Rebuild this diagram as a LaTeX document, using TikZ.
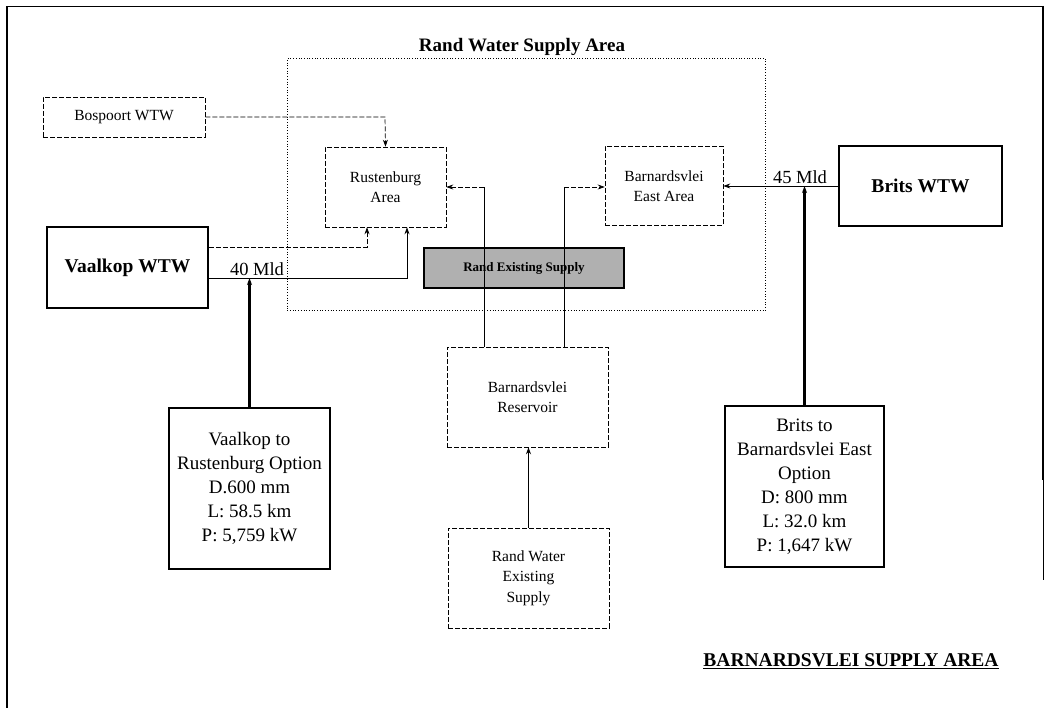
\documentclass[tikz,border=0pt]{standalone}
\usepackage{fontspec}
\setmainfont{Liberation Serif}
\usetikzlibrary{arrows.meta,patterns}
\begin{document}
\begin{tikzpicture}[x=1pt,y=-1pt,
  thinbox/.style={draw,dashed,line width=0.6pt,dash pattern=on 5pt off 2pt,rectangle,inner sep=0pt,align=center,font=\fontsize{15.5}{20.5}\selectfont},
  thickbox/.style={draw,line width=1.8pt,rectangle,inner sep=0pt,align=center},
  arr/.style={-{Stealth[length=7pt,width=5pt]}},
  dconn/.style={dashed,dash pattern=on 5pt off 2pt,line width=0.7pt},
  sconn/.style={line width=0.9pt},
  tconn/.style={line width=2.2pt}
]
\useasboundingbox (0,0) rectangle (1048,708);
% frame
\draw[line width=1.8pt] (7,708) -- (7,6);
\draw[line width=0.8pt] (7,6) -- (1043,6);
\draw[line width=1.4pt] (1043,6) -- (1043,480);
\draw[line width=0.5pt] (1043,480) -- (1043,580);

% Rand Water supply area
\node[draw,dotted,line width=0.7pt,minimum width=478pt,minimum height=252pt,anchor=north west] (rwsa) at (287,58) {};
\node[font=\fontsize{19}{22}\selectfont\bfseries,inner sep=0pt] (rwsat) at (522,47) {Rand Water Supply Area};

% boxes
\node[thinbox,minimum width=162pt,minimum height=40pt] (bosp) at (124,117) {Bospoort WTW};
\node[thinbox,minimum width=121pt,minimum height=80pt] (rust) at (385.5,187) {Rustenburg\\Area};
\node[thickbox,minimum width=161pt,minimum height=81pt,font=\fontsize{19.5}{22}\selectfont\bfseries] (vaal) at (127.5,267.5) {Vaalkop WTW};
\node[thinbox,minimum width=118pt,minimum height=79pt] (bea) at (664,186) {Barnardsvlei\\East Area};
\node[thickbox,minimum width=163pt,minimum height=80pt,font=\fontsize{19.5}{22}\selectfont\bfseries] (brits) at (920.5,186) {Brits WTW};
\node[draw,line width=2.5pt,fill=gray!62,pattern color=black!45,minimum width=200pt,minimum height=40pt,inner sep=0pt,font=\fontsize{13}{14}\selectfont\bfseries] (res) at (524,268) {Rand Existing Supply};
\node[thinbox,minimum width=161pt,minimum height=100pt] (resv) at (527.5,397) {Barnardsvlei\\Reservoir};
\node[thinbox,minimum width=161pt,minimum height=100pt] (rwes) at (528.5,578) {Rand Water\\Existing\\Supply};
\node[thickbox,minimum width=161pt,minimum height=161pt,font=\fontsize{19}{24}\selectfont] (vopt) at (249.5,488.5) {Vaalkop to\\Rustenburg Option\\D.600 mm\\L: 58.5 km\\P: 5,759 kW};
\node[thickbox,minimum width=159pt,minimum height=161pt,font=\fontsize{19}{24}\selectfont] (bopt) at (804.5,486.5) {Brits to\\Barnardsvlei East\\Option\\D: 800 mm\\L: 32.0 km\\P: 1,647 kW};

% connectors
\coordinate (b1) at (385,117);
\draw[dconn,arr] (bosp.east) -- (b1) -- (rust.north);
\coordinate (v1) at (367,247);
\draw[dconn,arr] (vaal.east |- v1) -- (v1) -- (v1 |- rust.south);
\coordinate (v2) at (407,278);
\draw[sconn,arr] (vaal.east |- v2) -- (v2) -- (v2 |- rust.south);
\node[font=\fontsize{18.5}{20}\selectfont,inner sep=1pt,anchor=south] (l40) at (257,277) {40 Mld};
\draw[tconn,arr] (vopt.north) -- (vopt.north |- v2);

\coordinate (r1) at (484,187);
\draw[sconn] (r1 |- resv.north) -- (r1);
\draw[dconn,arr] (r1) -- (rust.east |- r1);
\coordinate (r2) at (564,187);
\draw[sconn] (r2 |- resv.north) -- (r2);
\draw[dconn,arr] (r2) -- (bea.west |- r2);

\draw[sconn,arr] (brits.west) -- (bea.east);
\node[font=\fontsize{18.5}{20}\selectfont,inner sep=1pt,anchor=south] (l45) at (800,185) {45 Mld};
\draw[tconn,arr] (bopt.north) -- (bopt.north |- brits.west);

\draw[sconn,arr] (rwes.north) -- (rwes.north |- resv.south);

% title
\node[font=\fontsize{19.5}{22}\selectfont\bfseries,inner sep=0pt] (title) at (851,661) {\underline{BARNARDSVLEI SUPPLY AREA}};
\end{tikzpicture}
\end{document}
